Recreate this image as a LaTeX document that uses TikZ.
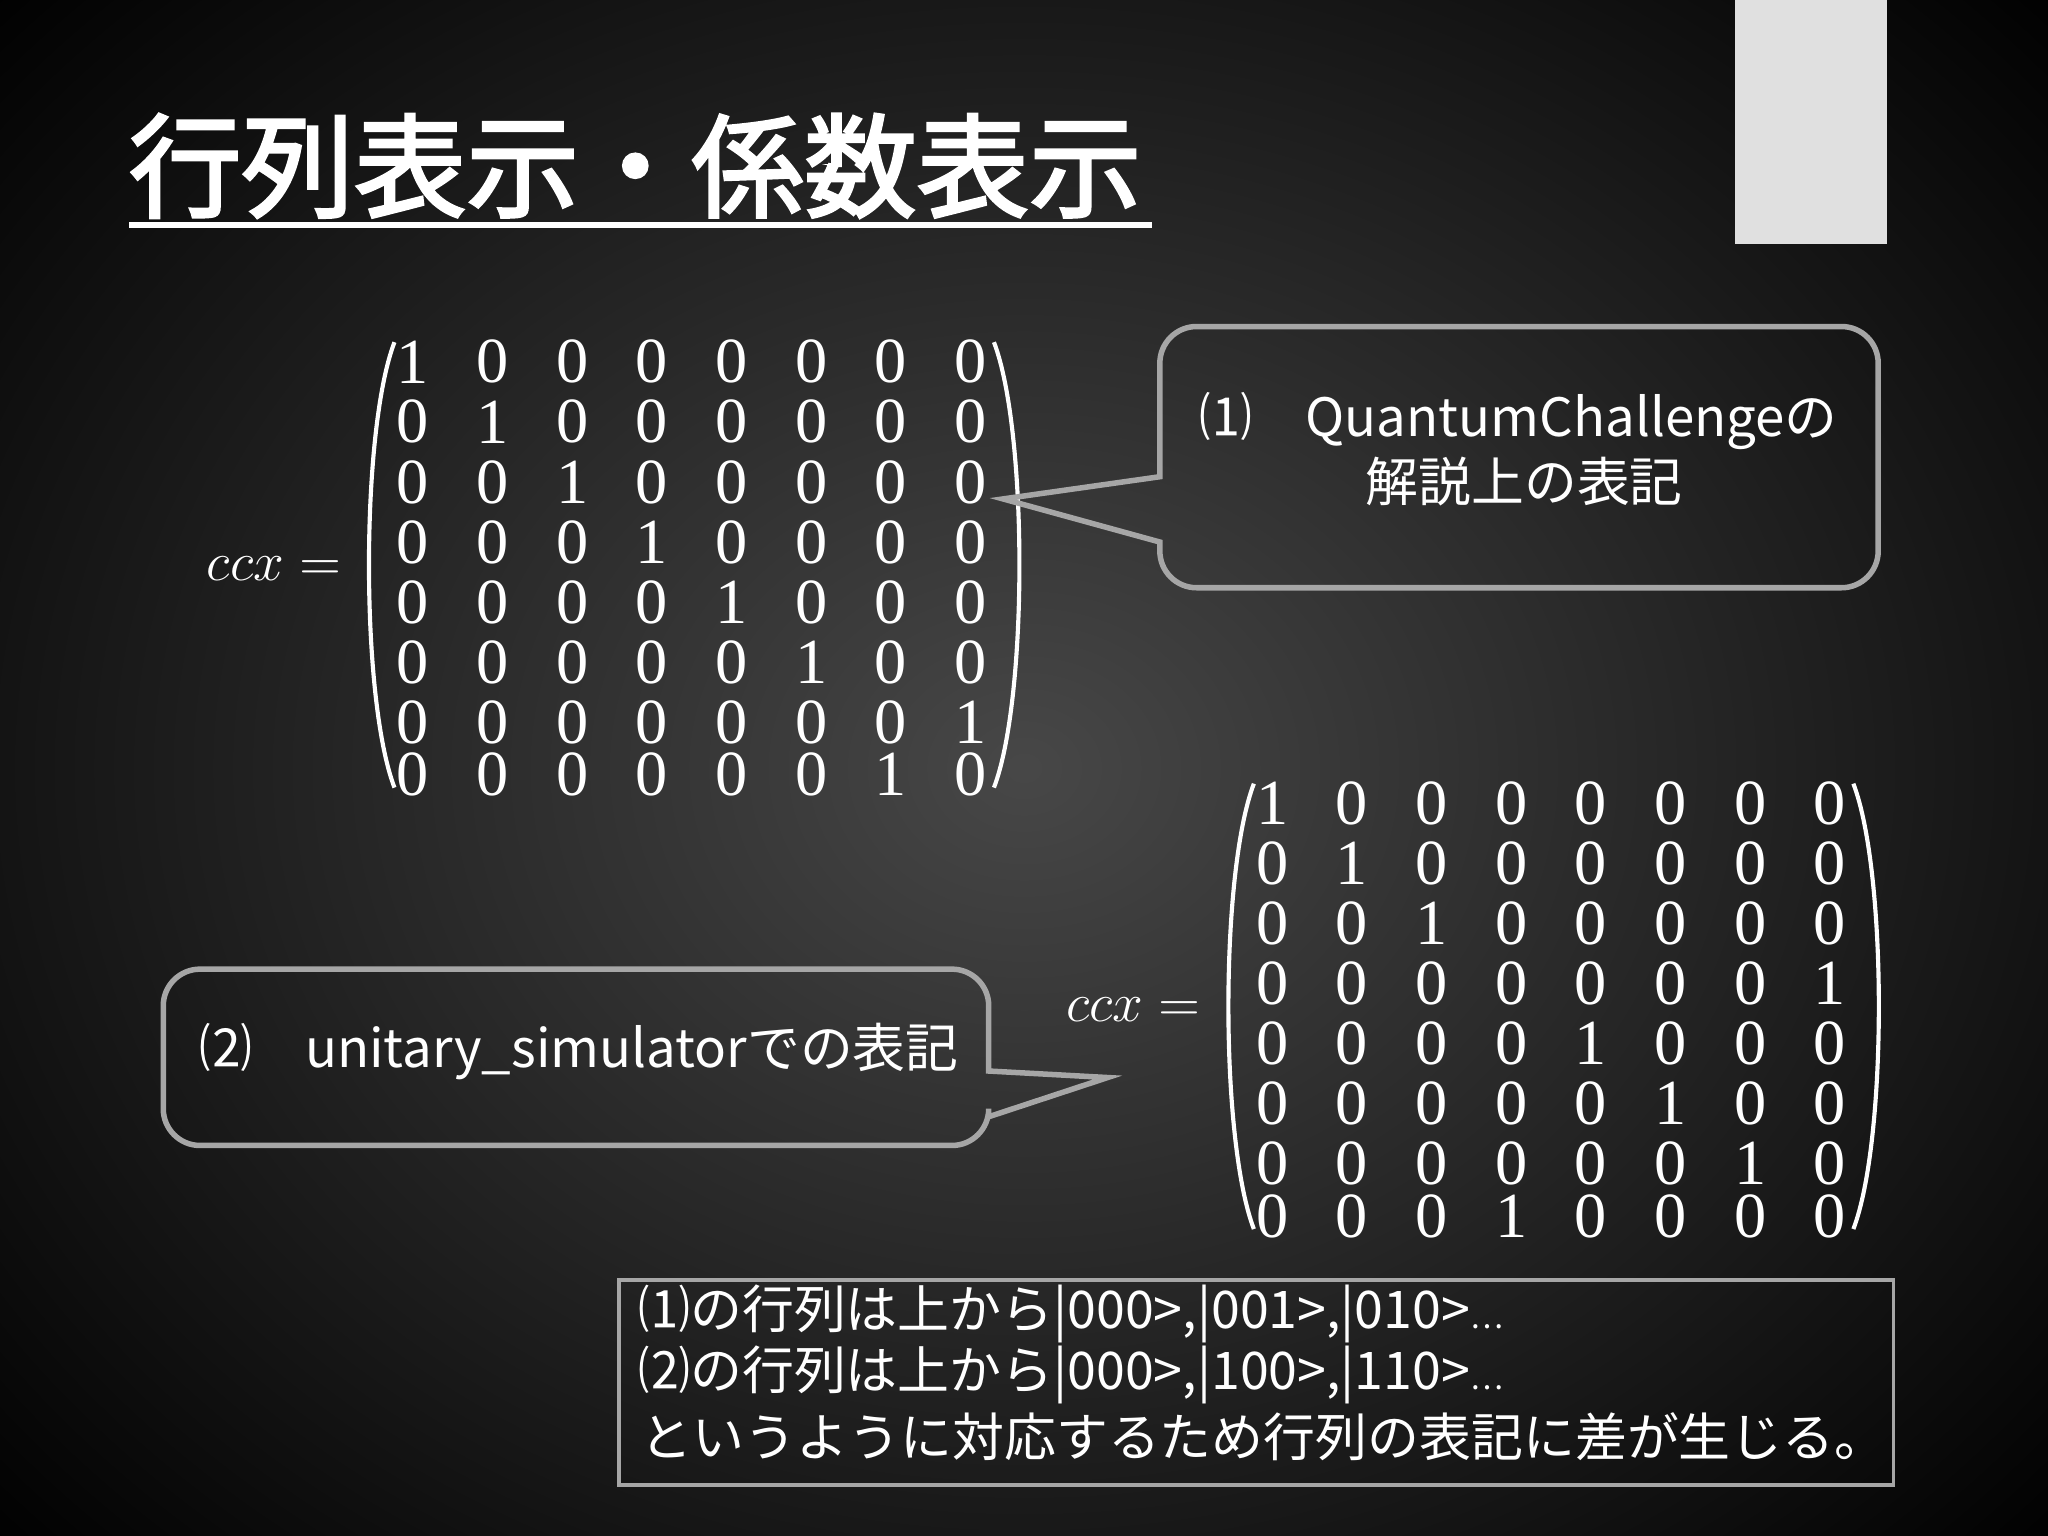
\documentclass[tikz,border=0pt]{standalone}
\usepackage{fontspec}
\newfontfamily\cjk{Noto Sans CJK JP}
\newfontfamily\cjkb{Noto Sans CJK JP}[FakeBold=2.5]
\setmainfont{Liberation Serif}
\tikzset{
 num/.style={text=white,font=\fontsize{14}{16}\selectfont,inner sep=0},
 callout/.style={draw=gray!70,line width=1.2pt},
 ctext/.style={text=white,font=\cjk\fontsize{11.5}{15}\selectfont,anchor=west,inner sep=0},
 ntext/.style={ctext,font=\cjk\fontsize{11.3}{14}\selectfont},
}
\begin{document}
\begin{tikzpicture}[x=0.01cm,y=-0.01cm]
\useasboundingbox (0,0) rectangle (1568,1176);
\shade[inner color=black!72,outer color=black] (-300,-300) rectangle (1868,1476);
\fill[black!12] (1328,0) rectangle (1445,187);
\node[anchor=west,text=white,font=\cjkb\fontsize{24.5}{30}\selectfont,inner sep=0] (title) at (98,127) {行列表示・係数表示};
\draw[white,line width=1.3pt] (99,172) -- (882,172);
% matrix 1
\foreach \r/\y/\row in {0/277/{1,0,0,0,0,0,0,0},1/323/{0,1,0,0,0,0,0,0},2/369/{0,0,1,0,0,0,0,0},3/415/{0,0,0,1,0,0,0,0},4/461/{0,0,0,0,1,0,0,0},5/507/{0,0,0,0,0,1,0,0},6/553/{0,0,0,0,0,0,0,1},7/593/{0,0,0,0,0,0,1,0}}{
 \foreach \v [count=\c from 0] in \row { \node[num] (a\r\c) at (316+61*\c,\y) {\v}; } }
\draw[white,line width=0.9pt] (302,262) .. controls (276,330) and (276,535) .. (302,603);
\draw[white,line width=0.9pt] (761,262) .. controls (787,330) and (787,535) .. (761,603);
\node[text=white,anchor=east,inner sep=0,font=\fontsize{12.5}{14}\selectfont] (eq1) at (262,435) {$ccx=$};
% matrix 2
\foreach \r/\y/\row in {0/615/{1,0,0,0,0,0,0,0},1/661/{0,1,0,0,0,0,0,0},2/707/{0,0,1,0,0,0,0,0},3/753/{0,0,0,0,0,0,0,1},4/799/{0,0,0,0,1,0,0,0},5/845/{0,0,0,0,0,1,0,0},6/891/{0,0,0,0,0,0,1,0},7/931/{0,0,0,1,0,0,0,0}}{
 \foreach \v [count=\c from 0] in \row { \node[num] (b\r\c) at (974+61*\c,\y) {\v}; } }
\draw[white,line width=0.9pt] (960,600) .. controls (934,668) and (934,873) .. (960,941);
\draw[white,line width=0.9pt] (1419,600) .. controls (1445,668) and (1445,873) .. (1419,941);
\node[text=white,anchor=east,inner sep=0,font=\fontsize{12.5}{14}\selectfont] (eq2) at (920,773) {$ccx=$};
% callout 1
\coordinate (p1) at (768,382);
\draw[callout] (888,365) [rounded corners=8pt] -- (888,250) -- (1438,250) -- (1438,450) -- (888,450) [sharp corners] -- (888,415) -- (p1) -- cycle;
\node[ctext] (t1) at (918,322) {⑴\hspace{1em}QuantumChallengeの};
\node[ctext] (t1b) at (1045,369) {解説上の表記};
% callout 2
\coordinate (p2) at (848,825);
\draw[callout] (757,820) [rounded corners=8pt] -- (757,742) -- (125,742) -- (125,877) -- (757,877) [sharp corners] -- (757,855) -- (p2) -- cycle;
\node[ctext] (t2) at (152,805) {⑵\hspace{1em}unitary\_simulatorでの表記};
% bottom box
\draw[gray!70,line width=0.7pt] (474,980) rectangle (1450,1137);
\node[ntext] (n1) at (488,1006) {⑴の行列は上から|000>,|001>,|010>\scalebox{0.6}{…}};
\node[ntext] (n2) at (488,1053) {⑵の行列は上から|000>,|100>,|110>\scalebox{0.6}{…}};
\node[ntext] (n3) at (490,1100) {というように対応するため行列の表記に差が生じる。};
\end{tikzpicture}
\end{document}
